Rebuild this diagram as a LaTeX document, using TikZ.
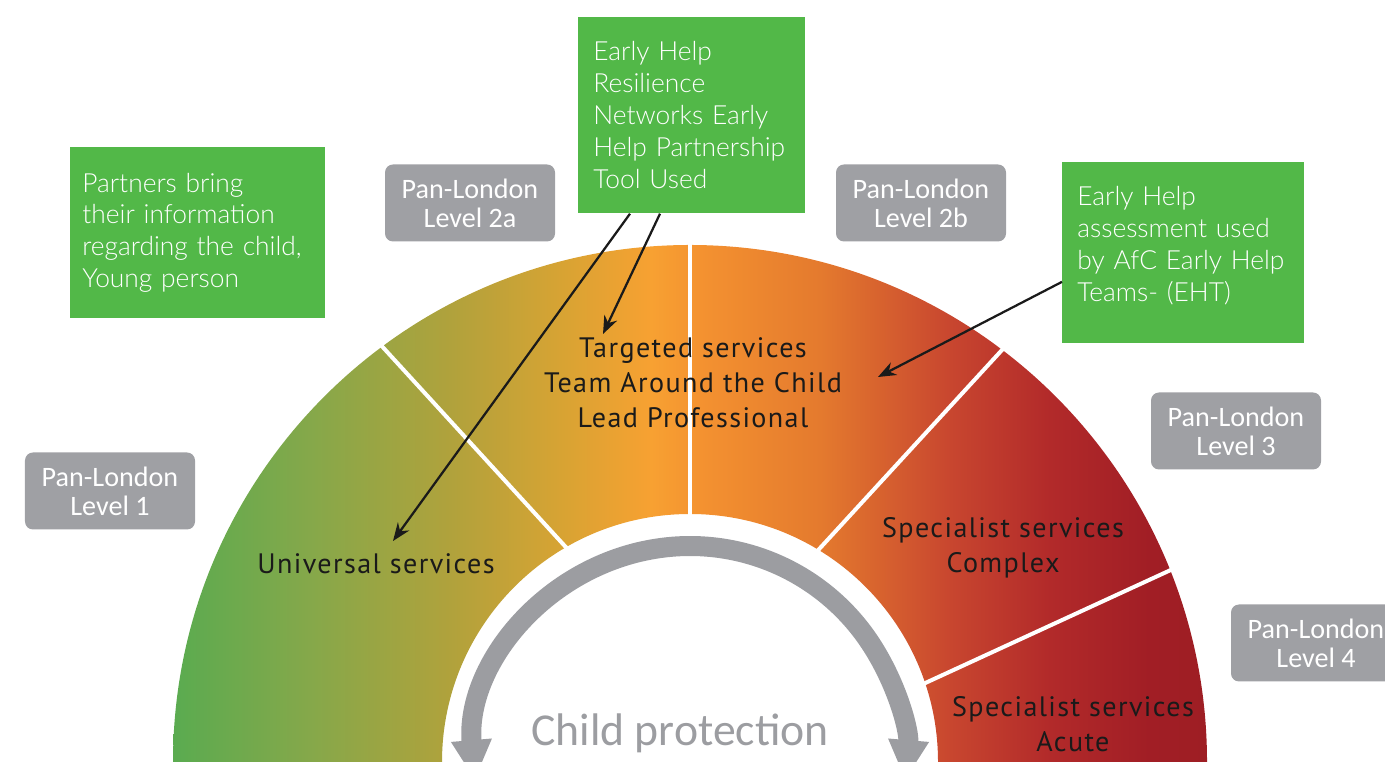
\documentclass[tikz,border=0pt]{standalone}
\usepackage{fontspec}
\setmainfont{PT Sans}
\newfontfamily\bandfont[LetterSpace=5]{PT Sans}
\IfFontExistsTF{Lato Light}{\newfontfamily\notefont{Lato Light}}{\newfontfamily\notefont{Lato}}
\newfontfamily\levelfont{Carlito}
\usetikzlibrary{calc,positioning,arrows.meta}

% colours
\definecolor{notegreen}{RGB}{82,184,72}
\definecolor{levelgray}{RGB}{159,160,164}
\definecolor{ringgray}{RGB}{156,157,161}
\definecolor{inkblack}{RGB}{26,26,26}
\definecolor{bandA}{RGB}{90,171,80}
\definecolor{bandB}{RGB}{133,168,74}
\definecolor{bandC}{RGB}{176,162,60}
\definecolor{bandD}{RGB}{217,163,51}
\definecolor{bandE}{RGB}{247,161,50}
\definecolor{bandF}{RGB}{244,146,48}
\definecolor{bandG}{RGB}{228,122,46}
\definecolor{bandH}{RGB}{200,70,47}
\definecolor{bandI}{RGB}{178,42,42}
\definecolor{bandJ}{RGB}{161,30,37}
\definecolor{bandK}{RGB}{158,30,36}

% green -> orange -> red, left to right (25bp..75bp is the filled box)
\pgfdeclarehorizontalshading{band}{100bp}{
  color(0bp)=(bandA); color(25bp)=(bandA);
  color(31.6bp)=(bandB); color(38.4bp)=(bandC);
  color(44bp)=(bandD); color(48.1bp)=(bandE);
  color(50.5bp)=(bandF); color(56.3bp)=(bandG);
  color(62.6bp)=(bandH); color(67.4bp)=(bandI);
  color(72.2bp)=(bandJ); color(75bp)=(bandK); color(100bp)=(bandK)}

\tikzset{
  notebox/.style={fill=notegreen, text=white, anchor=north west,
    font=\notefont\fontsize{15}{18.2}\selectfont, align=left, inner xsep=2.4mm},
  levelbox/.style={fill=levelgray, rounded corners=1.6mm, text=white,
    font=\levelfont\fontsize{16}{16.5}\selectfont, align=center,
    minimum width=34mm, minimum height=15.4mm, inner sep=0pt},
  bandlabel/.style={text=inkblack, font=\bandfont\fontsize{16}{19.9}\selectfont,
    align=center, inner sep=0pt},
  divider/.style={draw=white, line width=0.8mm},
  ring/.style={draw=ringgray, line width=4mm,
    {Triangle[width=7.6mm,length=8mm]}-{Triangle[width=7.6mm,length=8mm]}},
  pointer/.style={draw=inkblack, line width=0.45mm, -{Stealth[length=3.6mm,width=2.8mm]}}
}

% white cut between two bands: outer angle, inner angle
\newcommand{\divider}[2]{
    \draw[divider] ($(hub)+(#2:\rIn-6)$) -- ($(hub)+(#1:\rOut+6)$);
}

\begin{document}
\begin{tikzpicture}[x=0.2mm,y=0.2mm]
    \useasboundingbox (0,0) rectangle (1385,762);
    \clip (0,0) rectangle (1385,762);

    \pgfmathsetmacro{\rOut}{517}
    \pgfmathsetmacro{\rIn}{248}
    \pgfmathsetmacro{\rRing}{216}
    \coordinate (hub) at (690,0);

    % Half ring of services
    \begin{scope}
        \clip ($(hub)+(0:\rOut)$) arc[start angle=0,end angle=180,radius=\rOut]
            -- ($(hub)+(180:\rIn)$) arc[start angle=180,end angle=0,radius=\rIn] -- cycle;
        \shade[shading=band] (173,0) rectangle (1207,517);
    \end{scope}
    \divider{126.6}{119.7}
    \divider{90}{90}
    \divider{52.8}{59.1}
    \divider{21.8}{18.4}

    % Child protection arrow
    \draw[ring] ($(hub)+(184.8:\rRing)$) arc[start angle=184.8,end angle=-4.8,radius=\rRing];
    \node[text=ringgray, font=\levelfont\fontsize{26}{30}\selectfont] (protect) at (680,29) {Child protection};

    % Service labels
    \node[bandlabel] (universal) at (376,198) {Universal services};
    \node[bandlabel] (targeted) at (693,379) {Targeted services\\Team Around the Child\\Lead Professional};
    \node[bandlabel] (complex) at (1003,214) {Specialist services\\Complex};
    \node[bandlabel] (acute) at (1073,38) {Specialist services\\Acute};

    % Pan-London levels
    \node[levelbox] (lvlOne) at (110,271) {Pan-London\\Level 1};
    \node[levelbox] (lvlTwoA) at (470,559) {Pan-London\\Level 2a};
    \node[levelbox] (lvlTwoB) at (921,559) {Pan-London\\Level 2b};
    \node[levelbox] (lvlThree) at (1236,331) {Pan-London\\Level 3};
    \node[levelbox] (lvlFour) at (1316,119) {Pan-London\\Level 4};

    % Notes
    \node[notebox, minimum width=51mm, minimum height=34.2mm, text width=46.2mm] (partners) at (70,615)
        {Partners bring\\their information\\regarding the child,\\Young person};
    \node[notebox, inner xsep=3mm, minimum width=45.4mm, minimum height=39.2mm, text width=39.4mm] (resilience) at (578,745)
        {Early Help\\Resilience\\Networks Early\\Help Partnership\\Tool Used};
    \node[notebox, inner xsep=3mm, minimum width=48.4mm, minimum height=36.2mm, text width=42.4mm] (assessment) at (1062,600)
        {Early Help\\assessment used\\by AfC Early Help\\Teams- (EHT)\par\vspace*{2.8mm}};

    % Pointers
    \coordinate (universalTip) at (393,221);
    \coordinate (targetedTip) at (603,428);
    \coordinate (teamTip) at (878,385);
    \draw[pointer] ($(resilience.south west)+(52,0)$) -- (universalTip);
    \draw[pointer] ($(resilience.south west)+(82,0)$) -- (targetedTip);
    \draw[pointer] ($(assessment.west)+(0,-29)$) -- (teamTip);
\end{tikzpicture}
\end{document}
